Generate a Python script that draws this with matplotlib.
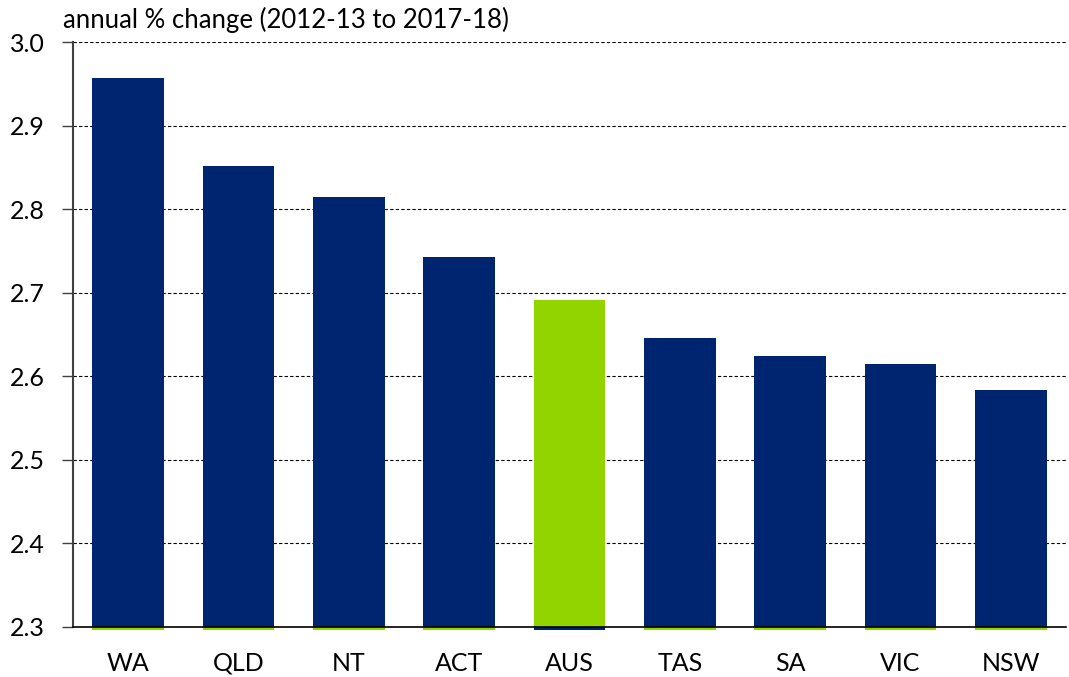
import matplotlib
matplotlib.use('Agg')
import matplotlib.pyplot as plt

states = ['WA', 'QLD', 'NT', 'ACT', 'AUS', 'TAS', 'SA', 'VIC', 'NSW']
growth = [2.957, 2.852, 2.815, 2.743, 2.691, 2.646, 2.624, 2.615, 2.584]

NAVY = '#002570'
GREEN = '#92D400'

plt.rcParams['font.family'] = ['Lato', 'DejaVu Sans']

fig = plt.figure(figsize=(10.69, 6.77), dpi=100)
ax = fig.add_axes([73/1069, 50/677, (1066-73)/1069, (627-42)/677])

colors = [GREEN if s == 'AUS' else NAVY for s in states]
edge = [NAVY if s == 'AUS' else GREEN for s in states]
x = range(len(states))
# bars start a touch below the axis floor, like the original
ax.bar(x, [v - 2.296 for v in growth], bottom=2.296, width=0.65,
       color=edge, zorder=2, clip_on=False)
ax.bar(x, [v - 2.3 for v in growth], bottom=2.3, width=0.65,
       color=colors, zorder=3)

ax.set_ylim(2.3, 3.0)
ax.set_xlim(-0.5, len(states) - 0.5)
ax.set_yticks([2.3, 2.4, 2.5, 2.6, 2.7, 2.8, 2.9, 3.0])
ax.set_yticklabels(['%.1f' % t for t in ax.get_yticks()], fontsize=18)
ax.set_xticks(list(x))
ax.set_xticklabels(states, fontsize=18)

ax.yaxis.grid(True, linestyle=(0, (3, 2)), color='black', linewidth=0.8, zorder=0)
ax.set_axisbelow(True)
for s in ['top', 'right']:
    ax.spines[s].set_visible(False)
ax.spines['left'].set_color('#404040')
ax.spines['left'].set_linewidth(1.5)
ax.spines['bottom'].set_color('black')
ax.spines['bottom'].set_linewidth(1.2)
ax.spines['bottom'].set_zorder(4)
ax.tick_params(axis='y', length=8, width=1, color='#404040', pad=12)
ax.tick_params(axis='x', length=0, pad=18)

fig.text(63/1069, 1 - 20/677, 'annual % change (2012-13 to 2017-18)',
         fontsize=18.5, va='center', ha='left')

fig.savefig('out.png', dpi=100)
